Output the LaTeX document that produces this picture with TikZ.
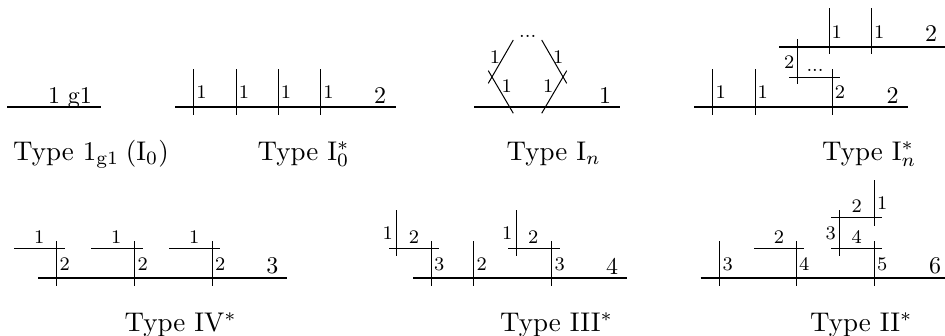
\documentclass[tikz,border=0pt]{standalone}
\tikzset{
  thk/.style={line width=1.8pt},
  thn/.style={line width=1pt},
  sm/.style={inner sep=0pt,scale=2.4,font=\fontsize{8}{10}\selectfont},
  bg/.style={inner sep=0pt,scale=2.4,font=\fontsize{10}{12}\selectfont},
  captxt/.style={inner sep=0pt,anchor=base west,scale=2.7,font=\fontsize{10}{12}\selectfont},
  dts/.style={inner sep=0pt,anchor=base,scale=2.4,font=\fontsize{8}{10}\selectfont}
}
\begin{document}
\begin{tikzpicture}[x=1pt,y=-1pt]
\useasboundingbox (0,0) rectangle (945,335);
% Type 1g1
\draw[thk] (7,107) -- (101,107);
\node[bg,anchor=base] (a1) at (70,103) {1 g1};
\node[captxt] (a2) at (12.5,160) {Type $\mathrm{1_{g1}}$\hspace{2.5pt}($\mathrm{I_0}$)};
% Type I0*
\draw[thk] (175,107) -- (396,107);
\foreach \x in {193.5,236,278,320.5}{
  \draw[thn] (\x,69) -- (\x,115);
  \node[sm] at (\x+8,92) {1};
}
\node[bg] (b1) at (380,96) {2};
\node[captxt] (b2) at (257,160) {Type $\mathrm{I_0^*}$};
% Type In
\draw[thk] (474,107) -- (620,107);
\draw[thn] (513.3,40) -- (488.3,83.3);
\draw[thn] (488.3,70.7) -- (513.3,113.3);
\draw[thn] (541.7,40) -- (566.7,83.3);
\draw[thn] (566.7,70.7) -- (541.7,113.3);
\node[sm] (c1) at (495,56.7) {1};
\node[sm] (c2) at (558.3,56.7) {1};
\node[sm] (c3) at (506.7,86) {1};
\node[sm] (c4) at (548.3,86) {1};
\node[dts] (c5) at (527.7,37.7) {...};
\node[bg] (c6) at (605,96) {1};
\node[captxt] (c7) at (506,160) {Type $\mathrm{I}_n$};
% Type In*
\draw[thk] (694,107) -- (907.7,107);
\draw[thk] (779,46.7) -- (945,46.7);
\draw[thn] (712.7,69) -- (712.7,115);
\draw[thn] (755,69) -- (755,115);
\draw[thn] (832.3,69) -- (832.3,115);
\draw[thn] (829,8) -- (829,54);
\draw[thn] (871.3,8) -- (871.3,54);
\draw[thn] (797.3,39.3) -- (797.3,84.3);
\draw[thn] (789.3,77) -- (840,77);
\node[sm] (d1) at (720.7,92) {1};
\node[sm] (d2) at (762.7,92) {1};
\node[sm] (d3) at (840,92) {2};
\node[bg] (d4) at (892.7,96) {2};
\node[sm] (d5) at (836.7,32) {1};
\node[sm] (d6) at (879.3,32) {1};
\node[bg] (d7) at (931,34) {2};
\node[sm] (d8) at (789.3,61.7) {2};
\node[dts] (d9) at (815,71) {...};
\node[captxt] (d10) at (821.5,160) {Type $\mathrm{I}_n^*$};
% Type IV*
\draw[thk] (38.3,278.3) -- (287.3,278.3);
\foreach \x/\a/\b/\c in {56.7/14/65/39.3,134.7/91.3/142.7/116.3,212.3/169/220.3/194.3}{
  \draw[thn] (\x,241) -- (\x,286);
  \draw[thn] (\a,248.3) -- (\b,248.3);
  \node[sm] at (\c,236.7) {1};
  \node[sm] at (\x+8,264) {2};
}
\node[bg] (e1) at (272.3,266) {3};
\node[captxt] (e2) at (124,331.5) {Type IV$^*$};
% Type III*
\draw[thk] (413.3,278.3) -- (627,278.3);
\draw[thn] (431.7,241) -- (431.7,286);
\draw[thn] (473.7,241) -- (473.7,286);
\draw[thn] (551.7,241) -- (551.7,286);
\draw[thn] (389,248.3) -- (439.3,248.3);
\draw[thn] (508.3,248.3) -- (559.7,248.3);
\draw[thn] (396.3,210) -- (396.3,256);
\draw[thn] (516,210) -- (516,256);
\node[sm] (f1) at (387.7,233.3) {1};
\node[sm] (f2) at (507.3,233.3) {1};
\node[sm] (f3) at (414,236.7) {2};
\node[sm] (f4) at (533.3,236.7) {2};
\node[sm] (f5) at (439.3,264) {3};
\node[sm] (f6) at (481.7,264) {2};
\node[sm] (f7) at (559.7,264) {3};
\node[bg] (f8) at (612,266) {4};
\node[captxt] (f9) at (499.5,331.5) {Type III$^*$};
% Type II*
\draw[thk] (700.7,278.3) -- (945,278.3);
\draw[thn] (719.3,241) -- (719.3,286);
\draw[thn] (796.7,241) -- (796.7,286);
\draw[thn] (874.3,241) -- (874.3,286);
\draw[thn] (754,248.3) -- (804.3,248.3);
\draw[thn] (831,248.3) -- (882.3,248.3);
\draw[thn] (831,217.7) -- (882.3,217.7);
\draw[thn] (839,210) -- (839,256);
\draw[thn] (874.3,180) -- (874.3,225.7);
\node[sm] (g1) at (727.7,264) {3};
\node[sm] (g2) at (804.3,264) {4};
\node[sm] (g3) at (882.3,264) {5};
\node[sm] (g4) at (779,236.7) {2};
\node[sm] (g5) at (830.7,233.3) {3};
\node[sm] (g6) at (856.7,236.7) {4};
\node[sm] (g7) at (856.7,205.7) {2};
\node[sm] (g8) at (882.3,202.7) {1};
\node[bg] (g9) at (935,266) {6};
\node[captxt] (g10) at (809.5,331.5) {Type II$^*$};
\end{tikzpicture}
\end{document}
